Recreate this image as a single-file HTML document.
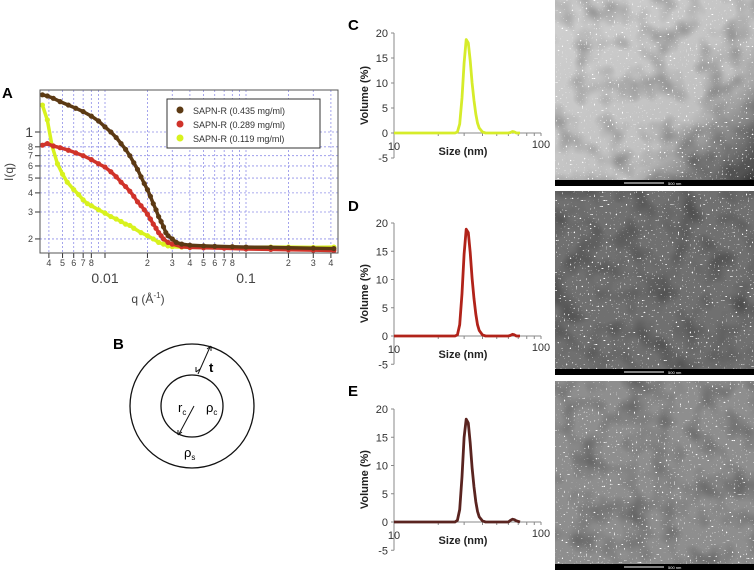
<!DOCTYPE html>
<html><head><meta charset="utf-8">
<style>
body{margin:0;background:#fff;}
svg{display:block;font-family:"Liberation Sans",sans-serif;}
.lbl{font-weight:bold;font-size:15px;}
</style></head>
<body>
<svg id="fig" width="754" height="570" viewBox="0 0 754 570">
<defs>
<filter id="n1" x="0" y="0" width="100%" height="100%">
 <feTurbulence type="fractalNoise" baseFrequency="0.04" numOctaves="2" seed="3" result="t"/>
 <feColorMatrix in="t" type="matrix" values="0 0 0 0 0  0 0 0 0 0  0 0 0 0 0  1.2 0 0 0 -0.5" result="dark"/>
 <feTurbulence type="fractalNoise" baseFrequency="0.5" numOctaves="1" seed="7" result="s"/>
 <feColorMatrix in="s" type="matrix" values="0 0 0 0 1  0 0 0 0 1  0 0 0 0 1  0 0 0 12 -8.2" result="spk"/>
 <feMerge><feMergeNode in="SourceGraphic"/><feMergeNode in="dark"/><feMergeNode in="spk"/></feMerge>
</filter>
<linearGradient id="g1" x1="0" y1="0" x2="1" y2="1"><stop offset="0" stop-color="#d0d0d0"/><stop offset="0.65" stop-color="#c0c0c0"/><stop offset="1" stop-color="#3a3a3a"/></linearGradient>
</defs>

<g id="panelA">
<text x="2" y="98" class="lbl">A</text>
<g id="gridA"></g>
<g id="ticksA" font-size="10" fill="#444"></g>
<g id="seriesA"></g>
<rect x="40" y="90" width="298" height="163" fill="none" stroke="#555" stroke-width="1"/>
<g>
<rect x="167" y="99" width="153" height="49" fill="#fff" stroke="#333"/>
<circle cx="180" cy="110" r="3.5" fill="#5c3a14"/>
<text x="193" y="114" font-size="9" fill="#333">SAPN-R  (0.435 mg/ml)</text>
<circle cx="180" cy="124" r="3.5" fill="#d0332a"/>
<text x="193" y="128" font-size="9" fill="#333">SAPN-R  (0.289 mg/ml)</text>
<circle cx="180" cy="138" r="3.5" fill="#d8f21e"/>
<text x="193" y="142" font-size="9" fill="#333">SAPN-R  (0.119 mg/ml)</text>
</g>
<text x="148" y="303" font-size="12" fill="#444" text-anchor="middle">q (Å<tspan dy="-5" font-size="8">-1</tspan><tspan dy="5">)</tspan></text>
<text transform="translate(13,172) rotate(-90)" font-size="12" fill="#444" text-anchor="middle">I(q)</text>
</g>

<g id="panelB">
<text x="113" y="349" class="lbl">B</text>
<circle cx="192" cy="406" r="62" fill="none" stroke="#111" stroke-width="1.3"/>
<circle cx="192" cy="406" r="31" fill="none" stroke="#111" stroke-width="1.3"/>
<line x1="198" y1="374" x2="210" y2="347" stroke="#111"/>
<path d="M196 372 l0 -5 M196 372 l4 -3 M211 346 l0 5 M211 346 l-4 3" stroke="#111" fill="none"/>
<text x="209" y="372" font-size="13" font-weight="bold">t</text>
<line x1="194" y1="406" x2="179" y2="434" stroke="#111"/>
<path d="M178 435 l0 -5 M178 435 l4 -3" stroke="#111" fill="none"/>
<text x="178" y="412" font-size="13">r<tspan font-size="8" dy="3">c</tspan></text>
<text x="206" y="412" font-size="13">ρ<tspan font-size="8" dy="3">c</tspan></text>
<text x="184" y="457" font-size="13">ρ<tspan font-size="8" dy="3">s</tspan></text>
</g>

<g id="dls"></g>

<g>
<rect x="555" y="0" width="199" height="186" fill="url(#g1)" filter="url(#n1)"/>
<rect x="555" y="180" width="199" height="6" fill="#000"/>
<line x1="624" y1="183" x2="664" y2="183" stroke="#fff" stroke-width="1"/>
<text x="668" y="185" font-size="4" fill="#fff">500 nm</text>
</g>
<g>
<rect x="555" y="191" width="199" height="184" fill="#707070" filter="url(#n1)"/>
<rect x="555" y="369" width="199" height="6" fill="#000"/>
<line x1="624" y1="372" x2="664" y2="372" stroke="#fff" stroke-width="1"/>
<text x="668" y="374" font-size="4" fill="#fff">500 nm</text>
</g>
<g>
<rect x="555" y="381" width="199" height="189" fill="#8e8e8e" filter="url(#n1)"/>
<rect x="555" y="564" width="199" height="6" fill="#000"/>
<line x1="624" y1="567" x2="664" y2="567" stroke="#fff" stroke-width="1"/>
<text x="668" y="569" font-size="4" fill="#fff">500 nm</text>
</g>
</svg>
<script>
const qBrown = [0.0036,0.0039,0.0043,0.0048,0.0055,0.0062,0.007,0.008,0.009,0.01,0.011,0.012,0.013,0.014,0.015,0.016,0.017,0.018,0.019,0.02,0.021,0.022,0.023,0.024,0.025,0.026,0.027,0.028,0.03,0.032,0.035,0.04,0.05,0.06,0.08,0.1,0.15,0.2,0.3,0.42];
const iBrown = [1.75,1.72,1.66,1.58,1.5,1.43,1.36,1.27,1.18,1.08,1.0,0.92,0.84,0.77,0.7,0.63,0.57,0.51,0.46,0.42,0.38,0.34,0.31,0.28,0.26,0.24,0.22,0.21,0.2,0.19,0.185,0.182,0.18,0.179,0.178,0.177,0.176,0.175,0.174,0.173];
const qRed = [0.0036,0.0039,0.0043,0.0048,0.0055,0.0062,0.007,0.008,0.009,0.01,0.011,0.012,0.013,0.014,0.015,0.016,0.017,0.018,0.019,0.02,0.021,0.022,0.023,0.024,0.025,0.026,0.028,0.03,0.035,0.04,0.05,0.07,0.1,0.15,0.2,0.3,0.42];
const iRed = [0.82,0.84,0.81,0.79,0.76,0.73,0.7,0.66,0.62,0.59,0.55,0.51,0.47,0.44,0.41,0.38,0.35,0.33,0.31,0.29,0.27,0.25,0.235,0.22,0.21,0.2,0.19,0.185,0.178,0.176,0.175,0.174,0.172,0.171,0.17,0.169,0.168];
const qYel = [0.0036,0.0039,0.0042,0.0046,0.005,0.0054,0.006,0.0065,0.007,0.0075,0.008,0.009,0.01,0.011,0.012,0.013,0.014,0.015,0.016,0.018,0.02,0.022,0.024,0.026,0.028,0.03,0.035,0.04,0.05,0.07,0.1,0.15,0.2,0.3,0.42];
const iYel = [1.5,1.2,0.82,0.62,0.53,0.47,0.42,0.39,0.36,0.34,0.33,0.31,0.295,0.28,0.27,0.26,0.25,0.245,0.235,0.22,0.21,0.2,0.19,0.185,0.18,0.178,0.177,0.176,0.176,0.176,0.176,0.177,0.177,0.176,0.177];
const yTicksA = [1,0.8,0.7,0.6,0.5,0.4,0.3,0.2];
const yTickLabelsA = ["1","8","7","6","5","4","3","2"];
const xTicksA = [0.004,0.005,0.006,0.007,0.008,0.01,0.02,0.03,0.04,0.05,0.06,0.07,0.08,0.1,0.2,0.3,0.4];
const xTickLabelsA = ["4","5","6","7","8","0.01","2","3","4","5","6","7","8","0.1","2","3","4"];

const sizesNm = [10,20,26,27,28,29,30,31,32,33,34,35,36,37,38,40,42,50,60,62,64,66,68,72];
const volC = [0,0,0,0.2,1.8,7,14,18.7,18,14.5,10,6.5,3.8,2,1,0.2,0,0,0,0.1,0.3,0.2,0,0];
const volD = [0,0,0,0.2,2,7.5,14.5,18.9,18.3,14.8,10.2,6.6,3.9,2,1,0.2,0,0,0,0.1,0.3,0.2,0,0];
const volE = [0,0,0,0.3,2.2,8,15,18.2,17.5,14,9.6,6.2,3.6,1.9,0.9,0.2,0,0,0,0.3,0.5,0.4,0.2,0];
const yTicksDLS = [20,15,10,5,0,-5];

const NS="http://www.w3.org/2000/svg";
function mk(tag,attrs,parent){const e=document.createElementNS(NS,tag);for(const k in attrs)e.setAttribute(k,attrs[k]);parent.appendChild(e);return e;}

const xA = q => 105 + 141*(Math.log10(q)+2);
const yA = v => 132 - 153*Math.log10(v);
const gridA=document.getElementById('gridA'), ticksA=document.getElementById('ticksA');
xTicksA.forEach((q,i)=>{
  const x=xA(q);
  const g=mk('line',{x1:x,y1:90,x2:x,y2:253,stroke:'#8f8fe8','stroke-width':0.8,'stroke-dasharray':'2,2'},gridA);
  
  
  const tk=mk('line',{x1:x,y1:253,x2:x,y2:258,stroke:'#333'},ticksA);
  
  
  const major = xTickLabelsA[i].indexOf('.')>=0;
  const t=mk('text',{x:x,y:major?283:266,'text-anchor':'middle','font-size':major?14:9},ticksA);
  t.textContent=xTickLabelsA[i];
  
  
});
[0.009,0.09].forEach(q=>{const x=xA(q);mk('line',{x1:x,y1:90,x2:x,y2:253,stroke:'#8f8fe8','stroke-width':0.8,'stroke-dasharray':'2,2'},gridA);});
yTicksA.forEach((v,i)=>{
  const y=yA(v);
  const g=mk('line',{x1:40,y1:y,x2:338,y2:y,stroke:'#8f8fe8','stroke-width':0.8,'stroke-dasharray':'2,2'},gridA);
  
  
  mk('line',{x1:35,y1:y,x2:40,y2:y,stroke:'#333'},ticksA);
  const t=mk('text',{x:33,y:y+(i==0?5:3),'text-anchor':'end','font-size':i==0?14:9},ticksA);
  t.textContent=yTickLabelsA[i];
  
  
});
const seriesA=document.getElementById('seriesA');
function drawSeries(qs,is,color,name){
  const g=mk('g',{},seriesA);
  
  
  const pts=qs.map((q,i)=>xA(q).toFixed(1)+','+yA(is[i]).toFixed(1)).join(' ');
  mk('polyline',{points:pts,fill:'none',stroke:color,'stroke-width':3.5,'stroke-linejoin':'round','stroke-linecap':'round'},g);
  qs.forEach((q,i)=>{
    const c=mk('circle',{cx:xA(q),cy:yA(is[i]),r:2.6,fill:color},g);
    
    
  });
}
drawSeries(qYel,iYel,'#d8f21e','series-0119');
drawSeries(qRed,iRed,'#d0332a','series-0289');
drawSeries(qBrown,iBrown,'#5c3a14','series-0435');

const dls=document.getElementById('dls');
const panels=[
 {lab:'C',ly:30,y0:133,y20:33,vals:volC,col:'#d6ec2a'},
 {lab:'D',ly:211,y0:336,y20:223,vals:volD,col:'#b1231a'},
 {lab:'E',ly:396,y0:522,y20:409,vals:volE,col:'#5a2420'}];
const xD = s => 394 + 147*(Math.log10(s)-1);
panels.forEach(p=>{
  const g=mk('g',{},dls);
  
  
  const yD = v => p.y0 - (p.y0-p.y20)*v/20;
  const L=mk('text',{x:348,y:p.ly,'font-size':15,'font-weight':'bold'},g); L.textContent=p.lab;
  
  
  mk('line',{x1:394,y1:yD(20),x2:394,y2:yD(-5),stroke:'#888'},g);
  yTicksDLS.forEach(v=>{
    mk('line',{x1:391,y1:yD(v),x2:394,y2:yD(v),stroke:'#888'},g);
    const t=mk('text',{x:388,y:yD(v)+4,'text-anchor':'end','font-size':11,fill:'#333'},g);
    t.textContent=v;
    
    
  });
  mk('line',{x1:394,y1:p.y0,x2:541,y2:p.y0,stroke:'#888'},g);
  [20,30,40,50,60,70,80,90,100].forEach(s=>mk('line',{x1:xD(s),y1:p.y0,x2:xD(s),y2:p.y0+3,stroke:'#888'},g));
  const t10=mk('text',{x:394,y:p.y0+17,'text-anchor':'middle','font-size':11,fill:'#333'},g); t10.textContent='10';
   
  const t100=mk('text',{x:541,y:p.y0+15,'text-anchor':'middle','font-size':11,fill:'#333'},g); t100.textContent='100';
   
  const xt=mk('text',{x:463,y:p.y0+22,'text-anchor':'middle','font-size':11,'font-weight':'bold',fill:'#222'},g); xt.textContent='Size (nm)';
   
  const yt=mk('text',{transform:'translate(368,'+yD(7.5)+') rotate(-90)','text-anchor':'middle','font-size':11,'font-weight':'bold',fill:'#222'},g); yt.textContent='Volume (%)';
   
  const d=sizesNm.map((s,i)=>(i?'L':'M')+xD(s).toFixed(1)+' '+yD(p.vals[i]).toFixed(1)).join(' ');
  const ln=mk('path',{d:d,fill:'none',stroke:p.col,'stroke-width':2.8,'stroke-linejoin':'round'},g);
  
  
});
</script>
</body></html>
